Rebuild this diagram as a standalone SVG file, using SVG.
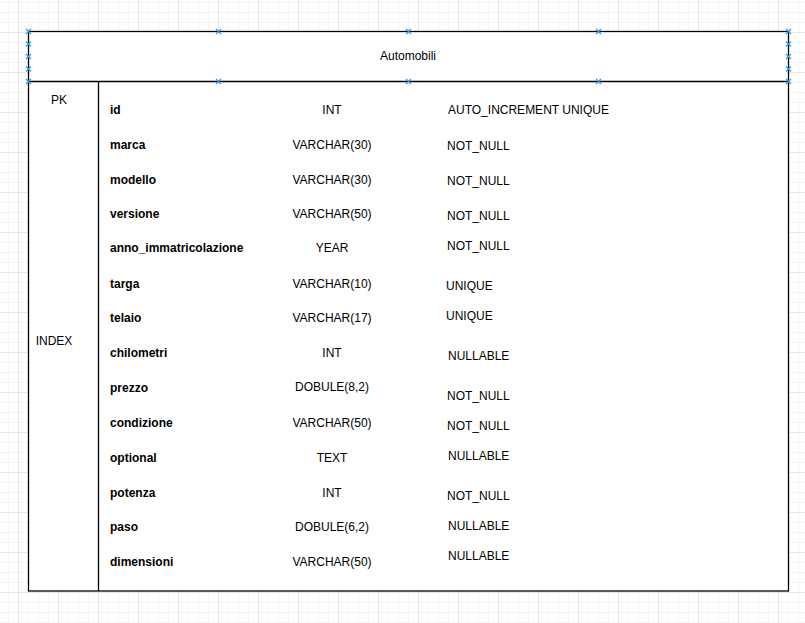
<svg xmlns="http://www.w3.org/2000/svg" width="805" height="623" viewBox="0 0 805 623">
<style>
text{font-family:"Liberation Sans",Arial,sans-serif;font-size:12px;fill:#000}
.n{font-weight:bold}
.t{text-anchor:middle}
.frame{fill:#fff;stroke:#000;stroke-width:1.3}
.ln{stroke:#000;stroke-width:1.3;fill:none}
.mk{stroke:#2e9ee8;stroke-width:1.3;fill:none}
</style>
<defs>
<pattern id="minor" width="10" height="10" patternUnits="userSpaceOnUse" x="8" y="2">
<path d="M0.5 0V10M0 0.5H10" stroke="#f4f4f4" stroke-width="1"/>
</pattern>
<pattern id="major" width="40" height="40" patternUnits="userSpaceOnUse" x="18" y="32">
<path d="M0.5 0V40M0 0.5H40" stroke="#e6e6e6" stroke-width="1"/>
</pattern>
<path id="x" d="M-2.5 -2.5L2.5 2.5M-2.5 2.5L2.5 -2.5"/>
</defs>
<rect width="805" height="623" fill="#fff"/>
<rect width="805" height="623" fill="url(#minor)"/>
<rect width="805" height="623" fill="url(#major)"/>
<g id="table-automobili">
<rect class="frame" x="28.5" y="31.5" width="760" height="559.5"/>
<line class="ln" x1="28.5" y1="81.5" x2="788.5" y2="81.5"/>
<line class="ln" x1="98.5" y1="81.5" x2="98.5" y2="591"/>
<text class="t" x="408" y="60">Automobili</text>
<text class="t" x="59" y="104">PK</text>
<text class="t" x="54" y="345">INDEX</text>
<g id="names">
<text class="n" x="110" y="114">id</text>
<text class="n" x="110" y="149">marca</text>
<text class="n" x="110" y="184">modello</text>
<text class="n" x="110" y="218">versione</text>
<text class="n" x="110" y="252">anno_immatricolazione</text>
<text class="n" x="110" y="288">targa</text>
<text class="n" x="110" y="322">telaio</text>
<text class="n" x="110" y="357">chilometri</text>
<text class="n" x="110" y="392">prezzo</text>
<text class="n" x="110" y="427">condizione</text>
<text class="n" x="110" y="462">optional</text>
<text class="n" x="110" y="497">potenza</text>
<text class="n" x="110" y="531">paso</text>
<text class="n" x="110" y="566">dimensioni</text>
</g>
<g id="types">
<text class="t" x="332" y="114">INT</text>
<text class="t" x="332" y="149">VARCHAR(30)</text>
<text class="t" x="332" y="184">VARCHAR(30)</text>
<text class="t" x="332" y="218">VARCHAR(50)</text>
<text class="t" x="332" y="252">YEAR</text>
<text class="t" x="332" y="288">VARCHAR(10)</text>
<text class="t" x="332" y="322">VARCHAR(17)</text>
<text class="t" x="332" y="357">INT</text>
<text class="t" x="332" y="391">DOBULE(8,2)</text>
<text class="t" x="332" y="427">VARCHAR(50)</text>
<text class="t" x="332" y="462">TEXT</text>
<text class="t" x="332" y="497">INT</text>
<text class="t" x="332" y="531">DOBULE(6,2)</text>
<text class="t" x="332" y="566">VARCHAR(50)</text>
</g>
<g id="constraints">
<text x="448" y="114">AUTO_INCREMENT UNIQUE</text>
<text x="447" y="150">NOT_NULL</text>
<text x="447" y="185">NOT_NULL</text>
<text x="447" y="220">NOT_NULL</text>
<text x="447" y="250">NOT_NULL</text>
<text x="446" y="290">UNIQUE</text>
<text x="446" y="320">UNIQUE</text>
<text x="448" y="360">NULLABLE</text>
<text x="447" y="400">NOT_NULL</text>
<text x="447" y="430">NOT_NULL</text>
<text x="448" y="460">NULLABLE</text>
<text x="447" y="500">NOT_NULL</text>
<text x="448" y="530">NULLABLE</text>
<text x="448" y="560">NULLABLE</text>
</g>
<g id="handles" class="mk">
<use href="#x" x="28.5" y="31.5"/><use href="#x" x="218.5" y="31.5"/><use href="#x" x="408.5" y="31.5"/><use href="#x" x="598.5" y="31.5"/><use href="#x" x="788.5" y="31.5"/>
<use href="#x" x="28.5" y="81.5"/><use href="#x" x="218.5" y="81.5"/><use href="#x" x="408.5" y="81.5"/><use href="#x" x="598.5" y="81.5"/><use href="#x" x="788.5" y="81.5"/>
<use href="#x" x="28.5" y="44"/><use href="#x" x="28.5" y="56.5"/><use href="#x" x="28.5" y="69"/>
<use href="#x" x="788.5" y="44"/><use href="#x" x="788.5" y="56.5"/><use href="#x" x="788.5" y="69"/>
</g>
</g>
</svg>
